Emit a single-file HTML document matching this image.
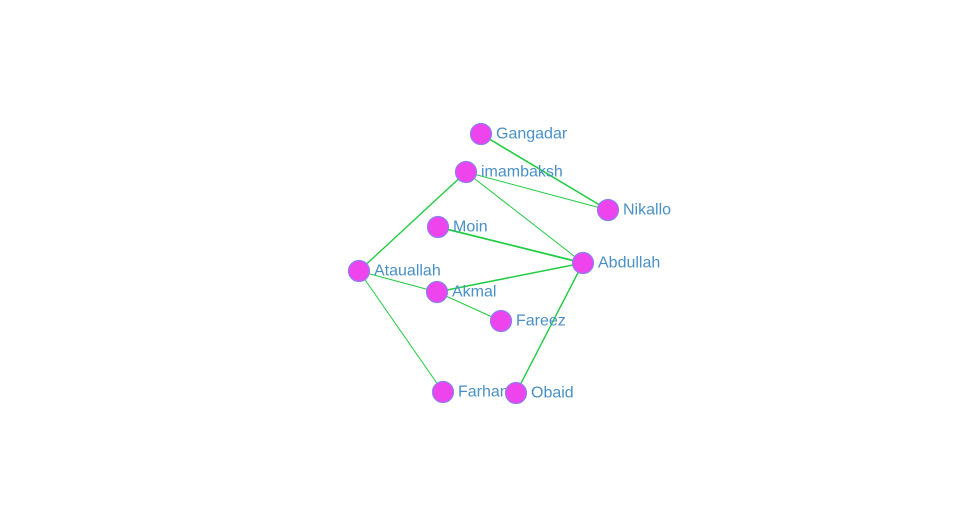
<!DOCTYPE html>
<html><head><style>body{margin:0;background:#fff}</style></head><body>
<svg width="960" height="500" xmlns="http://www.w3.org/2000/svg" font-family="Liberation Sans, sans-serif">
<g stroke="#22cc44" stroke-width="1">
<line x1="481" y1="134" x2="608" y2="210" stroke-width="1.6"/>
<line x1="466" y1="172" x2="608" y2="210"/>
<line x1="466" y1="172" x2="583" y2="263"/>
<line x1="466" y1="172" x2="359" y2="271" stroke-width="1.4"/>
<line x1="438" y1="227" x2="583" y2="263" stroke-width="1.8"/>
<line x1="583" y1="263" x2="437" y2="292" stroke-width="1.5"/>
<line x1="359" y1="271" x2="437" y2="292"/>
<line x1="437" y1="292" x2="501" y2="321"/>
<line x1="359" y1="271" x2="443" y2="392"/>
<line x1="583" y1="263" x2="516" y2="393" stroke-width="1.4"/>
</g>
<g fill="#ee44ee" stroke="#8a7ef0" stroke-width="1.2">
<circle cx="481" cy="134" r="10.5"/><circle cx="466" cy="172" r="10.5"/><circle cx="608" cy="210" r="10.5"/>
<circle cx="438" cy="227" r="10.5"/><circle cx="583" cy="263" r="10.5"/><circle cx="359" cy="271" r="10.5"/>
<circle cx="437" cy="292" r="10.5"/><circle cx="501" cy="321" r="10.5"/><circle cx="443" cy="392" r="10.5"/>
</g>
<g fill="#4a90c8" font-size="16" dominant-baseline="central">
<text x="496" y="134">Gangadar</text><text x="481" y="172">imambaksh</text><text x="623" y="210">Nikallo</text>
<text x="453" y="227">Moin</text><text x="598" y="263">Abdullah</text><text x="374" y="271">Atauallah</text>
<text x="452" y="292">Akmal</text><text x="516" y="321">Fareez</text><text x="458" y="392">Farhan</text>
</g>
<circle cx="516" cy="393" r="10.5" fill="#ee44ee" stroke="#8a7ef0" stroke-width="1.2"/>
<text x="531" y="393" fill="#4a90c8" font-size="16" dominant-baseline="central">Obaid</text>
</svg>
</body></html>
